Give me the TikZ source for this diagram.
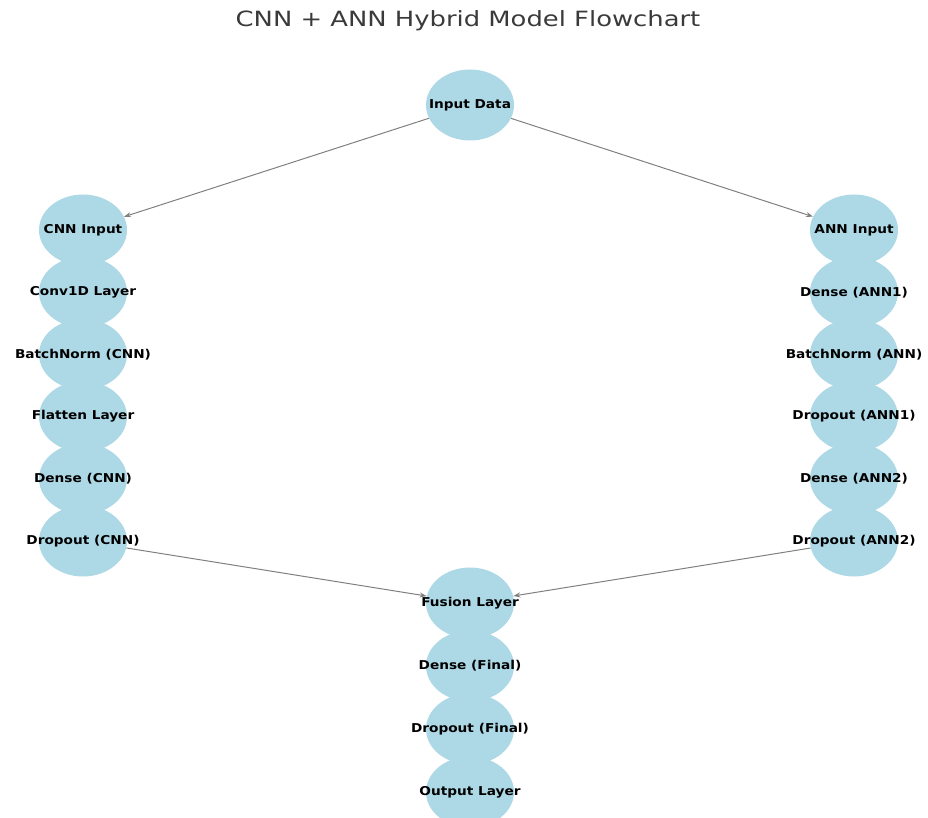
\documentclass[tikz,border=0pt]{standalone}
\usepackage{fontspec}
\usetikzlibrary{shapes.geometric,arrows.meta}
\newfontfamily\labelfont[FakeStretch=1.12]{DejaVu Sans}
\newfontfamily\titlefont[FakeStretch=1.23]{DejaVu Sans}
\definecolor{nodeblue}{HTML}{ADD8E6}
\definecolor{edgegray}{HTML}{808080}
\definecolor{titlegray}{HTML}{3A3A3A}
\newcommand{\lbl}[1]{\makebox[0pt][c]{#1}}
\tikzset{
  layer/.style={ellipse, fill=nodeblue, draw=none, minimum width=88pt, minimum height=71pt, inner sep=0pt,
    font=\labelfont\bfseries\fontsize{12.2}{13}\selectfont, text=black},
  link/.style={draw=edgegray, line width=1pt, -{Stealth[length=7pt,width=5pt]}}
}
\begin{document}
\begin{tikzpicture}[x=1pt,y=-1pt]
\useasboundingbox (0,0) rectangle (928,818);
\node[font=\titlefont\fontsize{21}{24}\selectfont, text=titlegray] (title) at (468,21) {CNN + ANN Hybrid Model Flowchart};
% middle
\node[layer] (in) at (470,105) {\lbl{Input Data}};
% left column
\node[layer] (c1) at (83,230) {\lbl{CNN Input}};
\node[layer] (c2) at (83,292.2) {\lbl{Conv1D Layer}};
\node[layer] (c3) at (83,354.4) {\lbl{BatchNorm (CNN)}};
\node[layer] (c4) at (83,416.6) {\lbl{Flatten Layer}};
\node[layer] (c5) at (83,478.8) {\lbl{Dense (CNN)}};
\node[layer] (c6) at (83,541) {\lbl{Dropout (CNN)}};
% right column
\node[layer] (a1) at (854,230) {\lbl{ANN Input}};
\node[layer] (a2) at (854,292.2) {\lbl{Dense (ANN1)}};
\node[layer] (a3) at (854,354.4) {\lbl{BatchNorm (ANN)}};
\node[layer] (a4) at (854,416.6) {\lbl{Dropout (ANN1)}};
\node[layer] (a5) at (854,478.8) {\lbl{Dense (ANN2)}};
\node[layer] (a6) at (854,541) {\lbl{Dropout (ANN2)}};
% bottom stack
\node[layer] (f1) at (470,603) {\lbl{Fusion Layer}};
\node[layer] (f2) at (470,666) {\lbl{Dense (Final)}};
\node[layer] (f3) at (470,729) {\lbl{Dropout (Final)}};
\node[layer] (f4) at (470,792) {\lbl{Output Layer}};
% connectors
\draw[link] (in) -- (c1);
\draw[link] (in) -- (a1);
\draw[link] (c6) -- (f1);
\draw[link] (a6) -- (f1);
\end{tikzpicture}
\end{document}
